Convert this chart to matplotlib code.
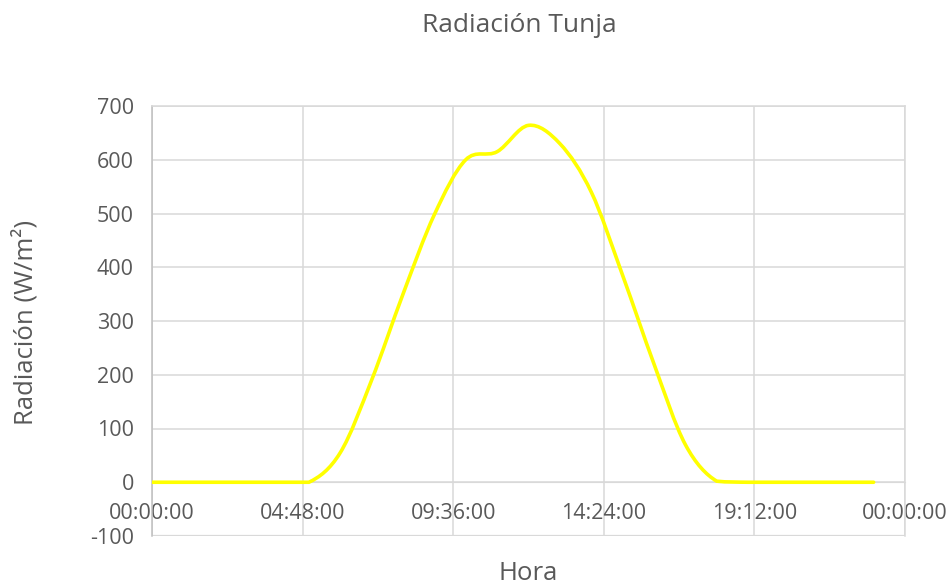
import numpy as np
import matplotlib.pyplot as plt
from matplotlib.path import Path
from matplotlib.patches import PathPatch

# hourly radiation values
horas = [0, 1, 2, 3, 4, 5, 6, 7, 8, 9, 10, 11, 12, 13, 14, 15, 16, 17, 18, 19, 20, 21, 22, 23]
radiacion = [0, 0, 0, 0, 0, 0, 55, 190, 350, 498, 600, 615, 664, 630, 540, 385, 220, 70, 2, 0, 0, 0, 0, 0]

tick_horas = [0, 4.8, 9.6, 14.4, 19.2, 24]
tick_labels = ['00:00:00', '04:48:00', '09:36:00', '14:24:00', '19:12:00', '00:00:00']
y_ticks = [-100, 0, 100, 200, 300, 400, 500, 600, 700]

gris = '#595959'
grid_c = '#d9d9d9'
plt.rcParams['font.family'] = ['Open Sans', 'DejaVu Sans']
plt.rcParams['axes.unicode_minus'] = False


def smooth_path(x, y):
    """Excel-like smoothed line: cubic bezier through each point, no dip below 0"""
    pts = np.column_stack([x, y]).astype(float)
    n = len(pts)
    verts = [pts[0]]
    codes = [Path.MOVETO]
    for i in range(n - 1):
        p0 = pts[i - 1] if i > 0 else pts[i]
        p1 = pts[i]
        p2 = pts[i + 1]
        p3 = pts[i + 2] if i + 2 < n else pts[i + 1]
        c1 = p1 + (p2 - p0) / 6.0
        c2 = p2 - (p3 - p1) / 6.0
        c1[1] = max(c1[1], 0)
        c2[1] = max(c2[1], 0)
        verts += [c1, c2, p2]
        codes += [Path.CURVE4] * 3
    return Path(verts, codes)


fig = plt.figure(figsize=(9.51, 5.86), dpi=100)
ax = fig.add_axes([152/951, 1 - 536/586, (905-152)/951, (536-106)/586])

ax.add_patch(PathPatch(smooth_path(horas, radiacion), fill=False,
                       edgecolor='#ffff00', lw=2.6, capstyle='round', zorder=3))

ax.set_xlim(0, 24)
ax.set_ylim(-100, 700)
ax.set_xticks(tick_horas)
ax.set_xticklabels(tick_labels)
ax.set_yticks(y_ticks)
ax.grid(True, color=grid_c, lw=1.1)
ax.set_axisbelow(True)
ax.tick_params(length=0, labelsize=15.5, colors=gris)
ax.tick_params(axis='y', pad=13)
ax.tick_params(axis='x', pad=15)

for s in ['top', 'right', 'left']:
    ax.spines[s].set_color(grid_c)
    ax.spines[s].set_linewidth(1.1)
ax.spines['left'].set_color('#bfbfbf')
# x axis crosses at 0, the -100 line is the plot border
ax.spines['bottom'].set_position(('data', 0))
ax.spines['bottom'].set_color(grid_c)
ax.axhline(-100, color=grid_c, lw=1.6, zorder=1)

fig.text(519/951, 1 - 25/586, 'Radiación Tunja', ha='center', va='center', fontsize=19, color=gris)
fig.text(25/951, 1 - 322/586, 'Radiación (W/m²)', ha='center', va='center', rotation=90, fontsize=18.5, color=gris)
fig.text(528/951, 1 - 573/586, 'Hora', ha='center', va='center', fontsize=18.5, color=gris)

plt.savefig('out.png', dpi=100)
